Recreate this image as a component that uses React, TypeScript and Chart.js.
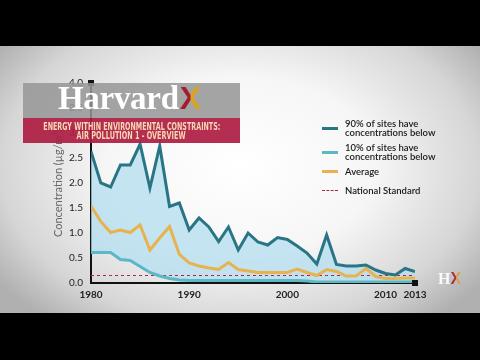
import React, { useEffect, useLayoutEffect, useRef } from "react";
import { Chart, registerables } from "chart.js";

Chart.register(...registerables);

const years = [
  1980, 1981, 1982, 1983, 1984, 1985, 1986, 1987, 1988, 1989,
  1990, 1991, 1992, 1993, 1994, 1995, 1996, 1997, 1998, 1999,
  2000, 2001, 2002, 2003, 2004, 2005, 2006, 2007, 2008, 2009,
  2010, 2011, 2012, 2013,
];
const p90 = [
  2.63, 2.0, 1.92, 2.36, 2.36, 2.78, 1.9, 2.74, 1.53, 1.6,
  1.06, 1.3, 1.12, 0.83, 1.12, 0.66, 1.0, 0.82, 0.76, 0.91,
  0.87, 0.74, 0.6, 0.38, 0.96, 0.37, 0.34, 0.34, 0.36, 0.26,
  0.19, 0.16, 0.29, 0.23,
];
const p10 = [
  0.61, 0.61, 0.61, 0.47, 0.45, 0.33, 0.21, 0.14, 0.09, 0.06,
  0.05, 0.05, 0.05, 0.05, 0.05, 0.05, 0.05, 0.05, 0.05, 0.05,
  0.05, 0.05, 0.04, 0.02, 0.02, 0.02, 0.02, 0.02, 0.02, 0.02,
  0.02, 0.02, 0.02, 0.02,
];
const average = [
  1.54, 1.23, 1.01, 1.06, 1.01, 1.16, 0.66, 0.9, 1.13, 0.57,
  0.4, 0.34, 0.3, 0.27, 0.41, 0.27, 0.24, 0.21, 0.21, 0.21,
  0.21, 0.28, 0.21, 0.15, 0.27, 0.23, 0.14, 0.14, 0.29, 0.13,
  0.09, 0.09, 0.1, 0.1,
];
const nationalStandard = years.map(() => 0.15);
const xTickValues = [1980, 1990, 2000, 2010, 2013];
const seriesLabels = [
  ["90% of sites have", "concentrations below"],
  ["10% of sites have", "concentrations below"],
  ["Average"],
  ["National Standard"],
];
const yTitle = "Concentration (µg/m³)";
const bannerTitle = ["ENERGY WITHIN ENVIRONMENTAL CONSTRAINTS:", "AIR POLLUTION 1 - OVERVIEW"];
const bannerWidths = [177, 109];

const C90 = "#2a7585";
const C10 = "#5cb8c6";
const CAVG = "#e7b350";
const CSTD = "#b3243f";
const FILL = "rgba(178,222,238,0.75)";

const pts = (arr: number[]) => arr.map((v, i) => ({ x: years[i], y: v }));

const endMarkers = {
  id: "endMarkers",
  afterDraw(chart: any) {
    const { ctx, chartArea } = chart;
    ctx.save();
    ctx.fillStyle = "#111";
    ctx.fillRect(chartArea.left - 3, chartArea.top - 3, 6, 6);
    ctx.fillRect(chartArea.right - 3, chartArea.bottom - 3, 6, 6);
    ctx.restore();
  },
};

function FitLine({ text, width }: { text: string; width: number }) {
  const ref = useRef<HTMLSpanElement | null>(null);
  useLayoutEffect(() => {
    const el = ref.current;
    if (!el) return;
    el.style.transform = "none";
    const w = el.getBoundingClientRect().width;
    if (w > 0) el.style.transform = `scaleX(${width / w})`;
  }, [text, width]);
  return (
    <div style={{ height: 8.5, display: "flex", justifyContent: "center" }}>
      <span ref={ref} style={{ display: "inline-block", transformOrigin: "center", whiteSpace: "nowrap" }}>
        {text}
      </span>
    </div>
  );
}

function LegendSwatch({ color, dashed }: { color: string; dashed?: boolean }) {
  return (
    <div
      style={{
        width: 16,
        height: 0,
        borderTop: dashed ? `1.5px dashed ${color}` : `3px solid ${color}`,
        marginRight: 7,
        flexShrink: 0,
      }}
    />
  );
}

export default function App() {
  const canvasRef = useRef<HTMLCanvasElement | null>(null);

  useEffect(() => {
    document.body.style.margin = "0";
    const canvas = canvasRef.current;
    if (!canvas) return;
    const chart = new Chart(canvas, {
      type: "line",
      data: {
        datasets: [
          {
            label: seriesLabels[0].join(" "),
            data: pts(p90),
            borderColor: C90,
            backgroundColor: FILL,
            borderWidth: 3,
            pointRadius: 0,
            tension: 0,
            fill: 1,
          },
          {
            label: seriesLabels[1].join(" "),
            data: pts(p10),
            borderColor: C10,
            borderWidth: 3,
            pointRadius: 0,
            tension: 0,
            fill: false,
          },
          {
            label: seriesLabels[2].join(" "),
            data: pts(average),
            borderColor: CAVG,
            borderWidth: 3,
            pointRadius: 0,
            tension: 0,
            fill: false,
          },
          {
            label: seriesLabels[3].join(" "),
            data: pts(nationalStandard),
            borderColor: CSTD,
            borderWidth: 1,
            borderDash: [3, 3],
            pointRadius: 0,
            fill: false,
          },
        ],
      },
      options: {
        responsive: false,
        animation: false,
        layout: { padding: { left: 48, top: 83, right: 65, bottom: 47 } },
        plugins: {
          legend: { display: false },
          tooltip: { enabled: false },
          filler: { drawTime: "beforeDatasetsDraw" },
        } as any,
        scales: {
          x: {
            type: "linear",
            min: 1980,
            max: 2013,
            grid: { display: false, drawTicks: false },
            border: { display: true, color: "#111", width: 2 },
            afterBuildTicks: (s: any) => {
              s.ticks = xTickValues.map((v) => ({ value: v }));
            },
            afterFit: (s: any) => {
              s.height = 30;
            },
            ticks: {
              autoSkip: false,
              maxRotation: 0,
              padding: 6,
              color: "#222",
              font: { family: "Lato, 'DejaVu Sans', sans-serif", size: 10, weight: "bold" },
              callback: (v: any) => String(v),
            },
          },
          y: {
            min: 0,
            max: 4,
            grid: { display: false, drawTicks: false },
            border: { display: true, color: "#111", width: 2 },
            afterFit: (s: any) => {
              s.width = 43;
            },
            ticks: {
              stepSize: 0.5,
              padding: 8,
              color: "#222",
              font: { family: "Lato, 'DejaVu Sans', sans-serif", size: 10 },
              callback: (v: any) => Number(v).toFixed(1),
            },
            title: {
              display: true,
              text: yTitle,
              color: "#666",
              font: { family: "Lato, 'DejaVu Sans', sans-serif", size: 11 },
            },
          },
        },
      },
      plugins: [endMarkers],
    } as any);
    return () => chart.destroy();
  }, []);

  const legendColors = [C90, C10, CAVG, CSTD];
  const legendTops = [119, 143, 167, 186];

  return (
    <div
      style={{
        position: "fixed",
        left: 0,
        top: 0,
        width: 480,
        height: 360,
        background: "#000",
        overflow: "hidden",
      }}
    >
      <div
        style={{
          position: "absolute",
          left: 0,
          top: 46,
          width: 480,
          height: 267,
          background:
            "radial-gradient(ellipse 62% 75% at 50% 45%, #ffffff 0%, #f6f6f6 45%, #d6d6d6 80%, #b0b0b0 100%)",
        }}
      />
      <canvas
        ref={canvasRef}
        width={480}
        height={360}
        style={{ position: "absolute", left: 0, top: 0, width: 480, height: 360 }}
      />
      {seriesLabels.map((lines, i) => (
        <div
          key={i}
          style={{
            position: "absolute",
            left: 322,
            top: legendTops[i],
            display: "flex",
            alignItems: "center",
            fontFamily: "Lato, 'DejaVu Sans', sans-serif",
            fontSize: 9.5,
            fontWeight: 600,
            lineHeight: "9px",
            color: "#1a1a1a",
          }}
        >
          <LegendSwatch color={legendColors[i]} dashed={i === 3} />
          <div>
            {lines.map((l, j) => (
              <div key={j}>{l}</div>
            ))}
          </div>
        </div>
      ))}
      <div
        style={{
          position: "absolute",
          left: 23,
          top: 83,
          width: 217,
          height: 35,
          background: "rgba(150,150,150,0.86)",
        }}
      >
        <div
          style={{
            position: "absolute",
            left: 35,
            top: -3,
            fontFamily: "'Liberation Serif', 'DejaVu Serif', serif",
            fontWeight: "bold",
            fontSize: 33,
            color: "#fff",
            letterSpacing: -0.3,
            whiteSpace: "nowrap",
          }}
        >
          Harvard
          <span
            style={{
              fontFamily: "'Liberation Sans', 'DejaVu Sans', sans-serif",
              fontWeight: "bold",
              fontSize: 32,
              background: "linear-gradient(90deg, #a51c30 0%, #a51c30 48%, #d9a520 52%, #d9a520 100%)",
              WebkitBackgroundClip: "text",
              backgroundClip: "text",
              color: "transparent",
              marginLeft: 1,
            }}
          >
            X
          </span>
        </div>
      </div>
      <div
        style={{
          position: "absolute",
          left: 23,
          top: 118,
          width: 217,
          height: 25,
          background: "rgba(172,28,66,0.92)",
          display: "flex",
          flexDirection: "column",
          alignItems: "center",
          justifyContent: "center",
          fontFamily: "'DejaVu Sans', 'Liberation Sans', sans-serif",
          fontWeight: "bold",
          fontSize: 10.5,
          lineHeight: "8.5px",
          color: "#f8d9b4",
        }}
      >
        {bannerTitle.map((t, i) => (
          <FitLine key={i} text={t} width={bannerWidths[i]} />
        ))}
      </div>
      <div
        style={{
          position: "absolute",
          left: 438,
          top: 270,
          fontFamily: "'Liberation Serif', 'DejaVu Serif', serif",
          fontWeight: "bold",
          fontSize: 16,
          color: "rgba(255,255,255,0.9)",
          whiteSpace: "nowrap",
        }}
      >
        H
        <span
          style={{
            fontFamily: "'Liberation Sans', 'DejaVu Sans', sans-serif",
            background: "linear-gradient(90deg, #b02a3a 0%, #b02a3a 50%, #d8a24a 52%, #d8a24a 100%)",
            WebkitBackgroundClip: "text",
            backgroundClip: "text",
            color: "transparent",
          }}
        >
          X
        </span>
      </div>
    </div>
  );
}
